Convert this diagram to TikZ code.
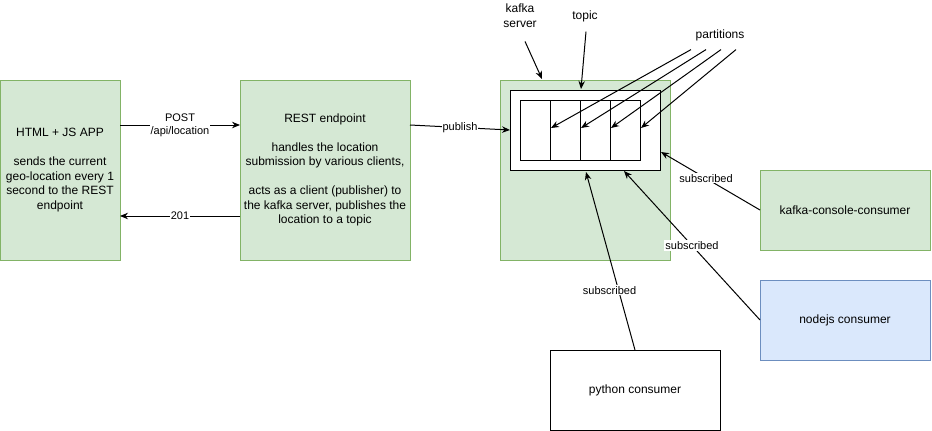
\documentclass[tikz,border=0pt]{standalone}
\usepackage{fontspec}
\setmainfont{Liberation Sans}
\usetikzlibrary{arrows.meta,calc}
\definecolor{gfill}{HTML}{D5E8D4}
\definecolor{gline}{HTML}{82B366}
\definecolor{bfill}{HTML}{DAE8FC}
\definecolor{bline}{HTML}{6C8EBF}
\begin{document}
\begin{tikzpicture}[x=1pt,y=-1pt,
  every node/.style={inner sep=0pt,outer sep=0pt},
  boxfont/.style={font=\fontsize{12}{14.5}\selectfont, align=center},
  greenbox/.style={boxfont, draw=gline, fill=gfill, line width=1pt},
  bluebox/.style={boxfont, draw=bline, fill=bfill, line width=1pt},
  whitebox/.style={boxfont, draw=black, fill=white, line width=1pt},
  conn/.style={-{Stealth[length=8pt,width=6.5pt]}, line width=1pt},
  plainline/.style={line width=1pt},
  elabel/.style={font=\fontsize{11}{13}\selectfont, align=center, fill=white, inner sep=1pt},
  freelabel/.style={font=\fontsize{12}{15}\selectfont, align=center}
]
\useasboundingbox (0,0) rectangle (932,431);

% main boxes
\node[greenbox, minimum width=120, minimum height=180] (html) at (60,170)
  {HTML + JS APP\\[14.5pt]sends the current\\geo-location every 1\\second to the REST\\endpoint};
\node[greenbox, minimum width=170, minimum height=180] (rest) at (325,170)
  {REST endpoint\\[14.5pt]handles the location\\submission by various clients,\\[14.5pt]acts as a client (publisher) to\\the kafka server, publishes the\\location to a topic};
\node[greenbox, minimum width=170, minimum height=180] (kafka) at (585,170) {};
\node[whitebox, minimum width=150, minimum height=80] (topic) at (585,130) {};
\node[whitebox, minimum width=30, minimum height=60] (p1) at (535,130) {};
\node[whitebox, minimum width=30, minimum height=60] (p2) at (565,130) {};
\node[whitebox, minimum width=30, minimum height=60] (p3) at (595,130) {};
\node[whitebox, minimum width=30, minimum height=60] (p4) at (625,130) {};

\node[greenbox, minimum width=170, minimum height=80] (console) at (845,210) {kafka-console-consumer};
\node[bluebox, minimum width=170, minimum height=80] (nodejs) at (845,320) {nodejs consumer};
\node[whitebox, minimum width=170, minimum height=80] (python) at (635,390) {python consumer};

% free labels
\node[freelabel] (kslbl) at (520,15.5) {kafka\\server};
\node[freelabel] (toplbl) at (585,16) {topic};
\node[freelabel] (partlbl) at (720,35) {partitions};

% end coordinates
\coordinate (ksend) at (542,79);
\coordinate (topend) at (581,89);
\coordinate (pe1) at (551,128);
\coordinate (pe2) at (581,128);
\coordinate (pe3) at (611,128);
\coordinate (pe4) at (641,128);
\coordinate (pubend) at (510,130);
\coordinate (sub1) at (661,152);
\coordinate (sub2) at (624,171);
\coordinate (sub3) at (586,172);

% REST connectors
\draw[conn] ($(html.north east)+(0,45)$) -- ($(rest.north west)+(0,45)$)
  node[elabel, midway] {POST\\/api/location};
\draw[conn] ($(rest.south west)+(0,-44)$) -- ($(html.south east)+(0,-44)$)
  node[elabel, midway] {201};
\draw[conn] ($(rest.north east)+(0,45)$) -- (pubend)
  node[elabel, pos=0.5] {publish};

% label arrows
\draw[conn] ($(kslbl.south)+(5,14)$) -- (ksend);
\draw[conn] ($(toplbl.south)+(1,10)$) -- (topend);
\draw[conn] ($(partlbl.south)+(-29,9)$) -- (pe1);
\draw[conn] ($(partlbl.south)+(-14,9)$) -- (pe2);
\draw[conn] ($(partlbl.south)+(1,9)$) -- (pe3);
\draw[conn] ($(partlbl.south)+(16,9)$) -- (pe4);

% subscriptions
\draw[conn] (console.west) -- (sub1) node[elabel, pos=0.545] {subscribed};
\draw[conn] (nodejs.west) -- (sub2) node[elabel, pos=0.5] {subscribed};
\draw[conn] (python.north) -- (sub3) node[elabel, pos=0.335, xshift=-9pt] {subscribed};
\end{tikzpicture}
\end{document}
